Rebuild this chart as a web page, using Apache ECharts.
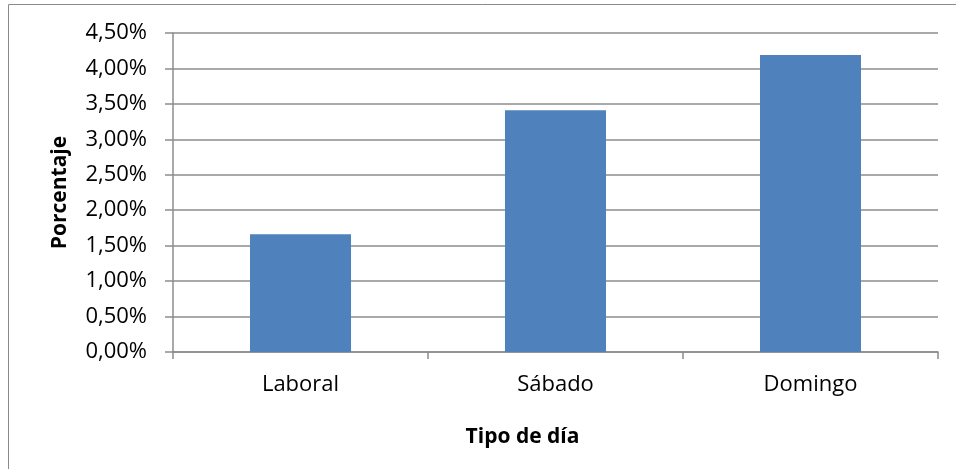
<!DOCTYPE html>
<html>
<head>
<meta charset="utf-8">
<script src="https://cdn.jsdelivr.net/npm/echarts@6/dist/echarts.min.js"></script>
<style>
  html, body { margin: 0; padding: 0; background: #fff; }
  #chart { width: 956px; height: 469px; }
</style>
</head>
<body>
<div id="chart"></div>
<script>
// Share of trips by type of day (percent)
const categories = ['Laboral', 'Sábado', 'Domingo'];
const values = [1.66, 3.41, 4.19];
const yMin = 0, yMax = 4.5, yStep = 0.5;

const FONT = '"Open Sans", "DejaVu Sans", sans-serif';
const GRID_GRAY = '#8c8c8c';

const chart = echarts.init(document.getElementById('chart'), null, { renderer: 'canvas' });

chart.setOption({
  backgroundColor: '#ffffff',
  animation: false,
  graphic: [{
    type: 'rect',
    shape: { x: 8.5, y: 4.5, width: 1200, height: 1200 },
    style: { fill: 'none', stroke: '#8a8a8a', lineWidth: 1 },
    silent: true
  }],
  grid: { left: 173, right: 18, top: 33, bottom: 117, containLabel: false },
  xAxis: {
    type: 'category',
    data: categories,
    name: 'Tipo de día',
    nameLocation: 'middle',
    nameGap: 75,
    nameTextStyle: {
      fontFamily: FONT, fontWeight: 'bold', fontSize: 21, color: '#000',
      padding: [0, 66, 0, 0]
    },
    axisLine: { show: true, lineStyle: { color: GRID_GRAY, width: 1.5 } },
    axisTick: { show: true, length: 7, lineStyle: { color: GRID_GRAY, width: 1.5 } },
    axisLabel: { fontFamily: FONT, fontSize: 22, color: '#000', margin: 22 }
  },
  yAxis: {
    type: 'value',
    min: yMin,
    max: yMax,
    interval: yStep,
    name: 'Porcentaje',
    nameLocation: 'middle',
    nameGap: 102,
    nameRotate: 90,
    nameTextStyle: { fontFamily: FONT, fontWeight: 'bold', fontSize: 21, color: '#000' },
    axisLine: { show: true, lineStyle: { color: GRID_GRAY, width: 1.5 } },
    axisTick: { show: true, length: 8, lineStyle: { color: GRID_GRAY, width: 1.5 } },
    splitLine: { show: true, lineStyle: { color: GRID_GRAY, width: 1.5 } },
    axisLabel: {
      fontFamily: FONT, fontSize: 22, color: '#000', margin: 26,
      formatter: v => v.toFixed(2).replace('.', ',') + '%'
    }
  },
  series: [{
    type: 'bar',
    data: values,
    barWidth: 101,
    itemStyle: { color: '#4f81bd' }
  }]
});
</script>
</body>
</html>
